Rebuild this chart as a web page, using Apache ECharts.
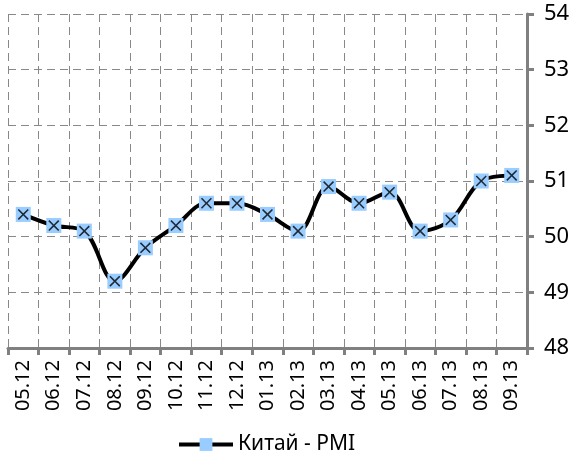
<!DOCTYPE html>
<html><head><meta charset="utf-8">
<script src="https://cdn.jsdelivr.net/npm/echarts@6/dist/echarts.min.js"></script>
<style>html,body{margin:0;padding:0;background:#fff}#c{width:587px;height:457px}</style>
</head><body><div id="c"></div>
<script>
const categories = ['05.12','06.12','07.12','08.12','09.12','10.12','11.12','12.12','01.13','02.13','03.13','04.13','05.13','06.13','07.13','08.13','09.13'];
const pmi = [50.4,50.2,50.1,49.2,49.8,50.2,50.6,50.6,50.4,50.1,50.9,50.6,50.8,50.1,50.3,51.0,51.1];
const seriesName = 'Китай - PMI';
const yTicks = [48,49,50,51,52,53,54];

const FONT = '"Noto Sans", sans-serif';
const xPath = 'path://M1,0 L5,4 L9,0 L10,1 L6,5 L10,9 L9,10 L5,6 L1,10 L0,9 L4,5 L0,1 Z';
const chart = echarts.init(document.getElementById('c'), null, {renderer:'canvas'});
chart.setOption({
  animation:false,
  backgroundColor:'#fff',
  grid:{left:8,right:60,top:14,bottom:109},
  legend:{
    left:172, top:429, itemWidth:54, itemHeight:16, itemGap:4,
    data:[seriesName],
    lineStyle:{width:4},
    textStyle:{fontFamily:FONT,fontSize:21,color:'#000'}
  },
  xAxis:{
    type:'category', data:categories, boundaryGap:true,
    axisLine:{lineStyle:{color:'#808080',width:3}},
    axisTick:{show:true,length:7,lineStyle:{color:'#808080',width:3}},
    axisLabel:{rotate:90,fontFamily:FONT,fontSize:20,color:'#000',margin:12},
    splitLine:{show:true,lineStyle:{color:'#888',type:[8,5],width:1}}
  },
  yAxis:{
    type:'value', position:'right', min:yTicks[0], max:yTicks[yTicks.length-1], interval:1,
    axisLine:{show:true,lineStyle:{color:'#808080',width:3}},
    axisTick:{show:true,length:7,lineStyle:{color:'#808080',width:3}},
    axisLabel:{fontFamily:FONT,fontSize:22,color:'#000',margin:17},
    splitLine:{show:true,lineStyle:{color:'#888',type:[8,5],width:1}}
  },
  series:[
    {
      name:seriesName, type:'line', data:pmi, smooth:0.35,
      lineStyle:{color:'#000',width:4},
      symbol:'rect', symbolSize:15,
      itemStyle:{color:'#99CCFF',borderWidth:0},
      z:2
    },
    {
      name:'x', type:'scatter', data:pmi, symbol:xPath, symbolSize:11,
      itemStyle:{color:'#000'}, z:3, silent:true
    }
  ]
});
</script></body></html>
